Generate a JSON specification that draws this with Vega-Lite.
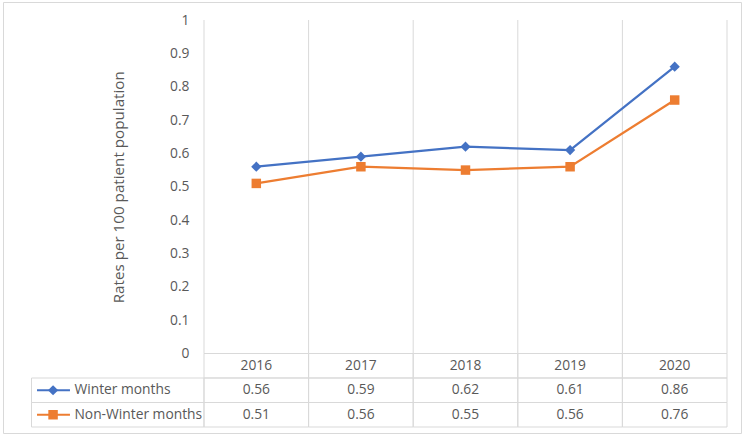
{
  "$schema": "https://vega.github.io/schema/vega-lite/v6.json",
  "width": 738,
  "height": 431,
  "autosize": "none",
  "padding": {"left": 3, "top": 2, "right": 9, "bottom": 6},
  "background": "white",
  "config": {
    "view": {"stroke": "#d9d9d9", "strokeWidth": 1},
    "font": "Open Sans",
    "text": {"font": "Open Sans", "fontSize": 13.8, "color": "#595959"}
  },
  "datasets": {
    "rates": [
      {"year": "2016", "series": "Winter months", "rate": 0.56},
      {"year": "2017", "series": "Winter months", "rate": 0.59},
      {"year": "2018", "series": "Winter months", "rate": 0.62},
      {"year": "2019", "series": "Winter months", "rate": 0.61},
      {"year": "2020", "series": "Winter months", "rate": 0.86},
      {"year": "2016", "series": "Non-Winter months", "rate": 0.51},
      {"year": "2017", "series": "Non-Winter months", "rate": 0.56},
      {"year": "2018", "series": "Non-Winter months", "rate": 0.55},
      {"year": "2019", "series": "Non-Winter months", "rate": 0.56},
      {"year": "2020", "series": "Non-Winter months", "rate": 0.76}
    ],
    "years": [
      {"year": "2016"}, {"year": "2017"}, {"year": "2018"}, {"year": "2019"}, {"year": "2020"}
    ],
    "series": [
      {"series": "Winter months"},
      {"series": "Non-Winter months"}
    ]
  },
  "resolve": {"scale": {"x": "independent", "y": "independent"}},
  "layer": [
    {
      "layer": [
        {
          "data": {"name": "years"},
          "mark": {"type": "rule", "color": "#d9d9d9", "strokeWidth": 1},
          "encoding": {
            "x": {"field": "year", "type": "ordinal", "bandPosition": 0,
                  "scale": {"type": "band", "domain": ["2016", "2017", "2018", "2019", "2020"], "range": [201, 724], "paddingInner": 0, "paddingOuter": 0},
                  "axis": null},
            "y": {"datum": 1, "type": "quantitative"},
            "y2": {"datum": 0}
          }
        },
        {
          "data": {"name": "years"},
          "transform": [{"filter": "datum.year == '2020'"}],
          "mark": {"type": "rule", "color": "#d9d9d9", "strokeWidth": 1},
          "encoding": {
            "x": {"field": "year", "type": "ordinal", "bandPosition": 1, "axis": null},
            "y": {"datum": 1, "type": "quantitative"},
            "y2": {"datum": 0}
          }
        },
        {
          "data": {"name": "rates"},
          "mark": {"type": "line", "strokeWidth": 2.25},
          "encoding": {
            "x": {"field": "year", "type": "ordinal", "axis": null},
            "y": {"field": "rate", "type": "quantitative",
                  "scale": {"domain": [0, 1], "range": [351.5, 18], "nice": false},
                  "axis": {
                    "orient": "left",
                    "offset": -201,
                    "values": [0, 0.1, 0.2, 0.3, 0.4, 0.5, 0.6, 0.7, 0.8, 0.9, 1],
                    "format": "~g",
                    "grid": false, "domain": false, "ticks": false, "tickSize": 0,
                    "labelPadding": 15,
                    "labelFont": "Open Sans", "labelFontSize": 13.8, "labelColor": "#595959",
                    "title": "Rates per 100 patient population",
                    "titleFont": "Open Sans", "titleFontSize": 15.2, "titleFontWeight": "normal",
                    "titleColor": "#595959", "titlePadding": 43
                  }},
            "color": {"field": "series", "type": "nominal",
                      "scale": {"domain": ["Winter months", "Non-Winter months"], "range": ["#4472C4", "#ED7D31"]},
                      "legend": null}
          }
        },
        {
          "data": {"name": "rates"},
          "mark": {"type": "point", "filled": true, "opacity": 1},
          "encoding": {
            "x": {"field": "year", "type": "ordinal", "axis": null},
            "y": {"field": "rate", "type": "quantitative"},
            "color": {"field": "series", "type": "nominal", "legend": null},
            "shape": {"field": "series", "type": "nominal",
                      "scale": {"domain": ["Winter months", "Non-Winter months"], "range": ["diamond", "square"]},
                      "legend": null},
            "size": {"field": "series", "type": "nominal",
                     "scale": {"domain": ["Winter months", "Non-Winter months"], "range": [105, 90]},
                     "legend": null}
          }
        }
      ]
    },
    {
      "layer": [
        {
          "data": {"name": "years"},
          "mark": {"type": "rect", "filled": false, "stroke": "#d9d9d9", "strokeWidth": 1},
          "encoding": {
            "x": {"field": "year", "type": "ordinal",
                  "scale": {"type": "band", "domain": ["2016", "2017", "2018", "2019", "2020"], "range": [201, 724], "paddingInner": 0, "paddingOuter": 0},
                  "axis": null},
            "y": {"datum": "header", "type": "nominal",
                  "scale": {"type": "band", "domain": ["header", "Winter months", "Non-Winter months"], "range": [351.5, 425], "paddingInner": 0, "paddingOuter": 0},
                  "axis": null}
          }
        },
        {
          "data": {"name": "rates"},
          "mark": {"type": "rect", "filled": false, "stroke": "#d9d9d9", "strokeWidth": 1},
          "encoding": {
            "x": {"field": "year", "type": "ordinal", "axis": null},
            "y": {"field": "series", "type": "nominal", "axis": null}
          }
        },
        {
          "data": {"name": "years"},
          "mark": {"type": "text", "baseline": "middle", "align": "center"},
          "encoding": {
            "x": {"field": "year", "type": "ordinal", "axis": null},
            "y": {"datum": "header", "type": "nominal", "axis": null},
            "text": {"field": "year"}
          }
        },
        {
          "data": {"name": "rates"},
          "mark": {"type": "text", "baseline": "middle", "align": "center"},
          "encoding": {
            "x": {"field": "year", "type": "ordinal", "axis": null},
            "y": {"field": "series", "type": "nominal", "axis": null},
            "text": {"field": "rate", "type": "quantitative", "format": ".2f"}
          }
        }
      ]
    },
    {
      "data": {"name": "series"},
      "layer": [
        {
          "mark": {"type": "rect", "filled": false, "stroke": "#d9d9d9", "strokeWidth": 1},
          "encoding": {
            "x": {"datum": 0, "type": "quantitative",
                  "scale": {"domain": [0, 1], "range": [28.5, 201], "nice": false, "zero": false},
                  "axis": null},
            "x2": {"datum": 1},
            "y": {"field": "series", "type": "nominal",
                  "scale": {"type": "band", "domain": ["header", "Winter months", "Non-Winter months"], "range": [351.5, 425], "paddingInner": 0, "paddingOuter": 0},
                  "axis": null}
          }
        },
        {
          "mark": {"type": "rule", "strokeWidth": 2},
          "encoding": {
            "x": {"datum": 0.032, "type": "quantitative", "axis": null},
            "x2": {"datum": 0.223},
            "y": {"field": "series", "type": "nominal", "axis": null},
            "color": {"field": "series", "type": "nominal", "legend": null}
          }
        },
        {
          "mark": {"type": "point", "filled": true, "opacity": 1},
          "encoding": {
            "x": {"datum": 0.125, "type": "quantitative", "axis": null},
            "y": {"field": "series", "type": "nominal", "axis": null},
            "color": {"field": "series", "type": "nominal", "legend": null},
            "shape": {"field": "series", "type": "nominal", "legend": null},
            "size": {"field": "series", "type": "nominal",
                     "scale": {"domain": ["Winter months", "Non-Winter months"], "range": [50, 60]},
                     "legend": null}
          }
        },
        {
          "mark": {"type": "text", "baseline": "middle", "align": "left"},
          "encoding": {
            "x": {"datum": 0.249, "type": "quantitative", "axis": null},
            "y": {"field": "series", "type": "nominal", "axis": null},
            "text": {"field": "series"}
          }
        }
      ]
    }
  ]
}
